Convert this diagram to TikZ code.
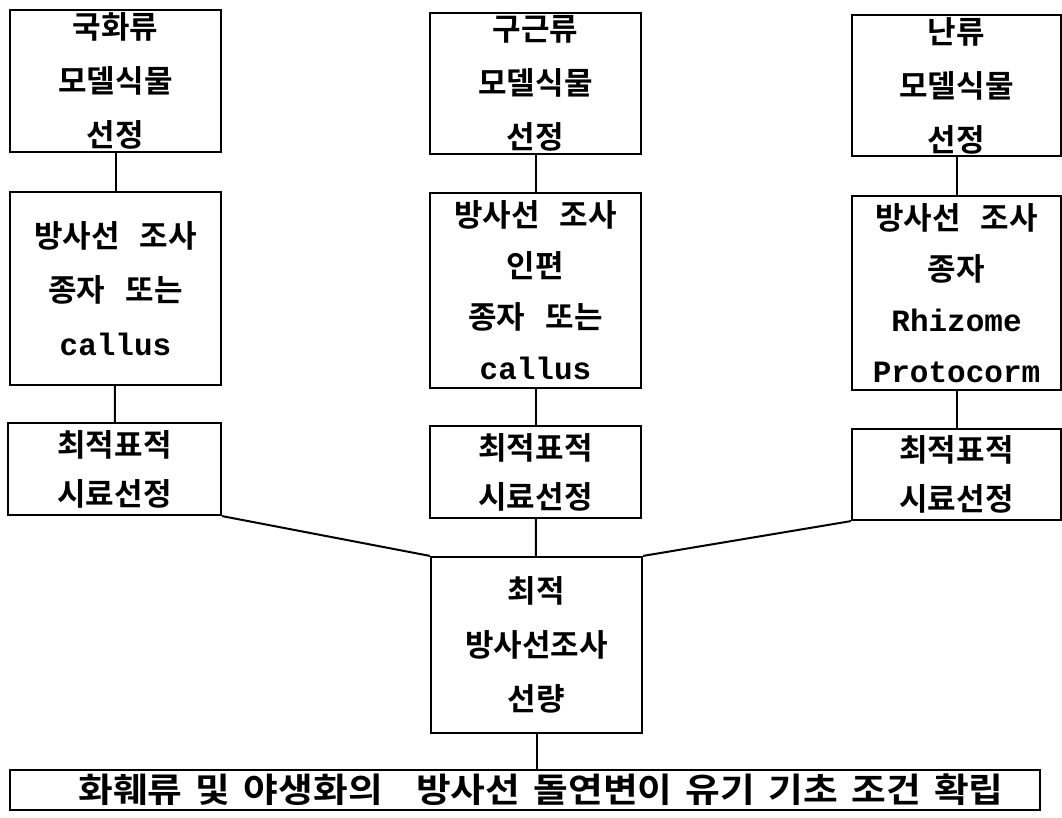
\documentclass[tikz,border=0pt]{standalone}
\usepackage{fontspec}
\newfontfamily\kr{Noto Sans CJK KR}[BoldFont={* Bold}]
\newfontfamily\mono{Liberation Mono}
\newcommand\ws{\hspace{20pt}}
\begin{document}
\begin{tikzpicture}[x=1pt,y=-1pt,
  box/.style={draw, line width=2.2pt, rectangle, inner sep=0pt, align=center,
    font=\kr\bfseries\fontsize{31}{54}\selectfont},
  box4/.style={box, font=\kr\bfseries\fontsize{31}{51}\selectfont},
  box2/.style={box, font=\kr\bfseries\fontsize{31}{49}\selectfont},
  link/.style={line width=2pt}]
\useasboundingbox (0,0) rectangle (1062,817);
% left column
\node[box, minimum width=211pt, minimum height=142pt] (L1) at (115.5,81) {국화류\\모델식물\\선정};
\node[box, minimum width=211pt, minimum height=193pt] (L2) at (115.5,288.5) {방사선\ws 조사\\종자\ws 또는\\{\mono\bfseries callus}};
\node[box2, minimum width=213pt, minimum height=92pt] (L3) at (114.5,469) {최적표적\\시료선정};
% middle column
\node[box, minimum width=211pt, minimum height=141pt] (M1) at (535.5,83.5) {구근류\\모델식물\\선정};
\node[box4, minimum width=211pt, minimum height=195pt] (M2) at (535.5,290.5) {방사선\ws 조사\\인편\\종자\ws 또는\\{\mono\bfseries callus}};
\node[box2, minimum width=211pt, minimum height=92pt] (M3) at (535.5,472) {최적표적\\시료선정};
% right column
\node[box, minimum width=209pt, minimum height=141pt] (R1) at (956.5,85.5) {난류\\모델식물\\선정};
\node[box4, minimum width=209pt, minimum height=194pt] (R2) at (956.5,293) {방사선\ws 조사\\종자\\{\mono\bfseries Rhizome}\\{\mono\bfseries Protocorm}};
\node[box2, minimum width=209pt, minimum height=91pt] (R3) at (956.5,474.5) {최적표적\\시료선정};
% center
\node[box, minimum width=211pt, minimum height=176pt] (C) at (536.5,645) {최적\\방사선조사\\선량};
% bottom
\node[box, minimum width=1030pt, minimum height=40pt, font=\kr\bfseries\fontsize{34}{40}\selectfont] (B) at (525,790)
  {\hspace{32pt}\scalebox{1.11}[1]{화훼류\hspace{12pt}및\hspace{12pt}야생화의\hspace{30pt}방사선\hspace{12pt}돌연변이\hspace{12pt}유기\hspace{12pt}기초\hspace{12pt}조건\hspace{12pt}확립}};
% connectors
\draw[link] (L1) -- (L2);
\draw[link] (L2) -- (L3);
\draw[link] (M1) -- (M2);
\draw[link] (M2) -- (M3);
\draw[link] (M3) -- (C);
\draw[link] (R1) -- (R2);
\draw[link] (R2) -- (R3);
\draw[link] (L3.south east) -- (C.north west);
\draw[link] (R3.south west) -- (C.north east);
\draw[link] (C.south) -- (C.south |- B.north);
\end{tikzpicture}
\end{document}
